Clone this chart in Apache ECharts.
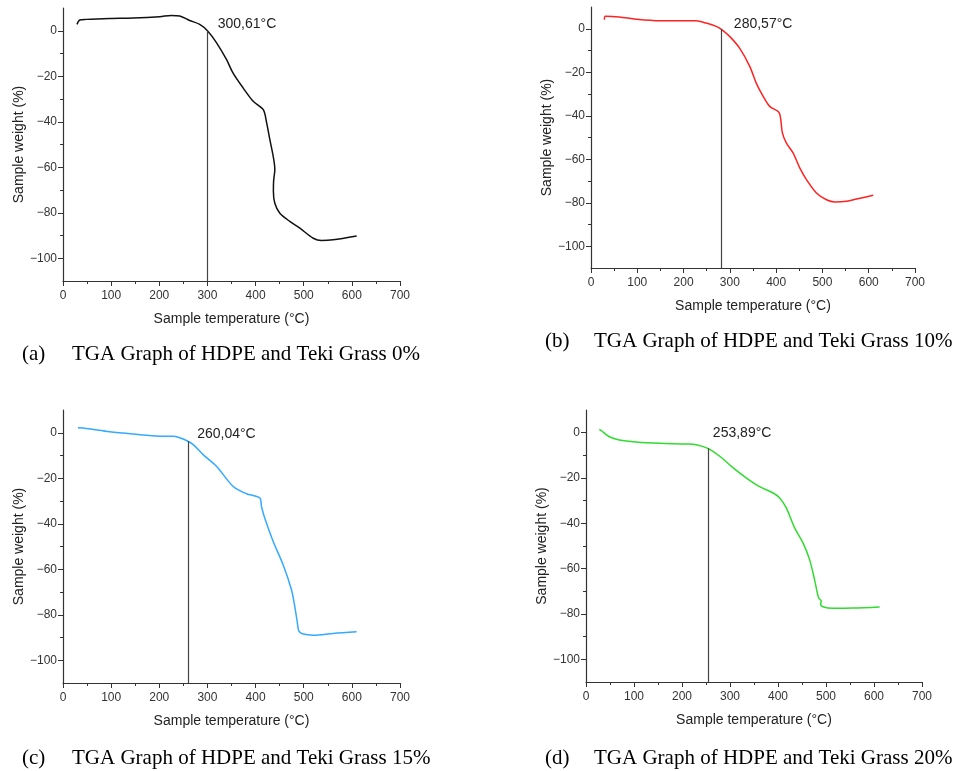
<!DOCTYPE html>
<html>
<head>
<meta charset="utf-8">
<script src="https://cdn.jsdelivr.net/npm/echarts@6/dist/echarts.min.js"></script>
<style>
  html, body { margin: 0; padding: 0; background: #fff; }
  #chart { width: 958px; height: 771px; }
</style>
</head>
<body>
<div id="chart"></div>
<script>
// TGA curves: temperature (°C) and weight (%)
var temp0   = [29, 34.6, 48.5, 97, 145.5, 201, 225, 242.5, 263, 284, 300, 319, 339.5, 353, 374, 395, 416, 423, 429.7, 436.6, 440, 437.5, 437, 440, 450.4, 471, 492, 519.8, 537, 561, 610];
var weight0 = [2.8, 4.7, 5.0, 5.4, 5.6, 6.2, 6.75, 6.5, 4.5, 2.8, 0, -5.3, -12.6, -18.5, -25.1, -31, -34.7, -40.5, -47.9, -55.2, -61, -66, -70.5, -75.8, -80.2, -83.8, -86.8, -91.2, -92.2, -91.9, -90.2];

var temp10   = [28.9, 31, 61, 97.4, 148, 191, 227, 249, 270.6, 281, 299.5, 321, 343, 357, 372, 386, 406, 410, 413.5, 422, 436.6, 451, 465.5, 487, 508.8, 526.8, 552, 573.7, 609.8];
var weight10 = [4.1, 5.7, 5.4, 4.4, 3.7, 3.7, 3.7, 2.6, 1.1, -0.15, -3.5, -8.9, -17.3, -25, -31.1, -35.7, -38.4, -41.8, -47.9, -52.5, -57.1, -64, -69.4, -75.5, -78.6, -79.6, -79.3, -78.3, -76.6];

var temp15   = [31, 48.5, 97, 145.5, 201, 228.7, 242.5, 256.4, 270, 291, 318.8, 353, 381, 409, 412.3, 419, 436.6, 457.4, 474.7, 481.6, 487, 490, 499, 519.8, 561, 609.8];
var weight15 = [2.2, 1.9, 0.4, -0.6, -1.5, -1.5, -2.2, -3.4, -5.1, -9.6, -14.7, -23.5, -26.8, -28.7, -32.4, -37.5, -47.8, -58.1, -69.1, -76.5, -83.8, -87.2, -88.5, -89, -88.2, -87.5];

var temp20   = [27.8, 31.3, 48.7, 69.5, 104, 153, 208.5, 229.4, 253.7, 278, 306, 333.7, 361.5, 389, 403, 417, 434.4, 451.8, 465.7, 476, 484.5, 490, 488.7, 493.5, 514.4, 556, 611.7];
var weight20 = [1.5, 1.0, -1.8, -3.2, -4.1, -4.7, -5.0, -5.3, -6.9, -10.3, -15.4, -19.9, -23.8, -26.5, -28.7, -33.1, -41.9, -48.5, -55.9, -64.7, -72.8, -74.3, -75.7, -76.8, -77.5, -77.4, -76.9];

// onset temperature and the weight where the vertical line meets the curve
var onsetTemp   = [300.61, 280.57, 260.04, 253.89];
var onsetWeight = [0, -0.15, -3.7, -6.9];
var onsetText   = ['300,61°C', '280,57°C', '260,04°C', '253,89°C'];

var captionTag  = ['(a)', '(b)', '(c)', '(d)'];
var captionText = ['TGA Graph of HDPE and Teki Grass 0%', 'TGA Graph of HDPE and Teki Grass 10%',
                   'TGA Graph of HDPE and Teki Grass 15%', 'TGA Graph of HDPE and Teki Grass 20%'];

var xTicks = [0, 100, 200, 300, 400, 500, 600, 700];
var yTicks = [0, -20, -40, -60, -80, -100];

var temps   = [temp0, temp10, temp15, temp20];
var weights = [weight0, weight10, weight15, weight20];
var colors  = ['#111111', '#ff2222', '#33aaff', '#2fdc2f'];

var grids = [
  { left: 63,  top: 8,   width: 337, height: 273 },
  { left: 591, top: 7,   width: 324, height: 261 },
  { left: 63,  top: 410, width: 337, height: 273 },
  { left: 586, top: 410, width: 336, height: 272 }
];
var labelOffsets = [[5, -7], [8, -5], [4, -7], [0, -15]];
var captionPos = [
  { tag: 22,  text: 72,  top: 344 },
  { tag: 545, text: 594, top: 331 },
  { tag: 22,  text: 72,  top: 748 },
  { tag: 545, text: 594, top: 748 }
];

var axisCol = '#333';
var minus = function (v) { return v < 0 ? '\u2212' + (-v) : String(v); };

var xAxes = [], yAxes = [], series = [], titles = [];
for (var i = 0; i < 4; i++) {
  xAxes.push({
    type: 'value', gridIndex: i, min: 0, max: 700, interval: 100,
    name: 'Sample temperature (°C)', nameLocation: 'middle', nameGap: 31,
    nameTextStyle: { fontSize: 14, color: '#222', fontFamily: 'Liberation Sans' },
    axisLine: { show: true, onZero: false, lineStyle: { color: axisCol, width: 1.2 } },
    axisTick: { show: true, length: 5, lineStyle: { color: axisCol } },
    minorTick: { show: true, splitNumber: 2, length: 3, lineStyle: { color: axisCol } },
    axisLabel: { fontSize: 12, color: '#333', fontFamily: 'Liberation Sans', margin: 9,
                 customValues: xTicks },
    splitLine: { show: false }
  });
  yAxes.push({
    type: 'value', gridIndex: i, min: -110, max: 10,
    name: 'Sample weight (%)', nameLocation: 'middle', nameGap: 37,
    nameTextStyle: { fontSize: 14, color: '#222', fontFamily: 'Liberation Sans' },
    axisLine: { show: true, onZero: false, lineStyle: { color: axisCol, width: 1.2 } },
    axisTick: { show: true, length: 5, lineStyle: { color: axisCol }, customValues: yTicks },
    minorTick: { show: true, splitNumber: 2, length: 3, lineStyle: { color: axisCol } },
    axisLabel: { fontSize: 12, color: '#333', fontFamily: 'Liberation Sans', margin: 6,
                 customValues: yTicks, formatter: minus },
    splitLine: { show: false }
  });
  var pts = temps[i].map(function (t, k) { return [t, weights[i][k]]; });
  series.push({
    type: 'line', xAxisIndex: i, yAxisIndex: i, data: pts,
    showSymbol: false, smooth: 0.3, animation: false,
    lineStyle: { color: colors[i], width: 1.5 },
    markLine: {
      silent: true, symbol: 'none', animation: false,
      label: { show: false },
      lineStyle: { color: '#444', width: 1.2, type: 'solid' },
      data: [[{ coord: [onsetTemp[i], onsetWeight[i]] }, { coord: [onsetTemp[i], -110] }]]
    },
    markPoint: {
      silent: true, animation: false,
      data: [{
        coord: [onsetTemp[i], onsetWeight[i]], symbolSize: 0,
        label: { show: true, position: 'right', offset: labelOffsets[i], formatter: onsetText[i],
                 fontSize: 14, color: '#222', fontFamily: 'Liberation Sans' }
      }]
    }
  });
  var capStyle = { fontSize: 21, fontWeight: 'normal', color: '#000', fontFamily: 'Liberation Serif' };
  titles.push({ text: captionTag[i], left: captionPos[i].tag, top: captionPos[i].top, padding: 0, textStyle: capStyle });
  titles.push({ text: captionText[i], left: captionPos[i].text, top: captionPos[i].top, padding: 0, textStyle: capStyle });
}

var chart = echarts.init(document.getElementById('chart'));
chart.setOption({
  backgroundColor: '#fff',
  animation: false,
  title: titles,
  grid: grids,
  xAxis: xAxes,
  yAxis: yAxes,
  series: series
});
</script>
</body>
</html>
